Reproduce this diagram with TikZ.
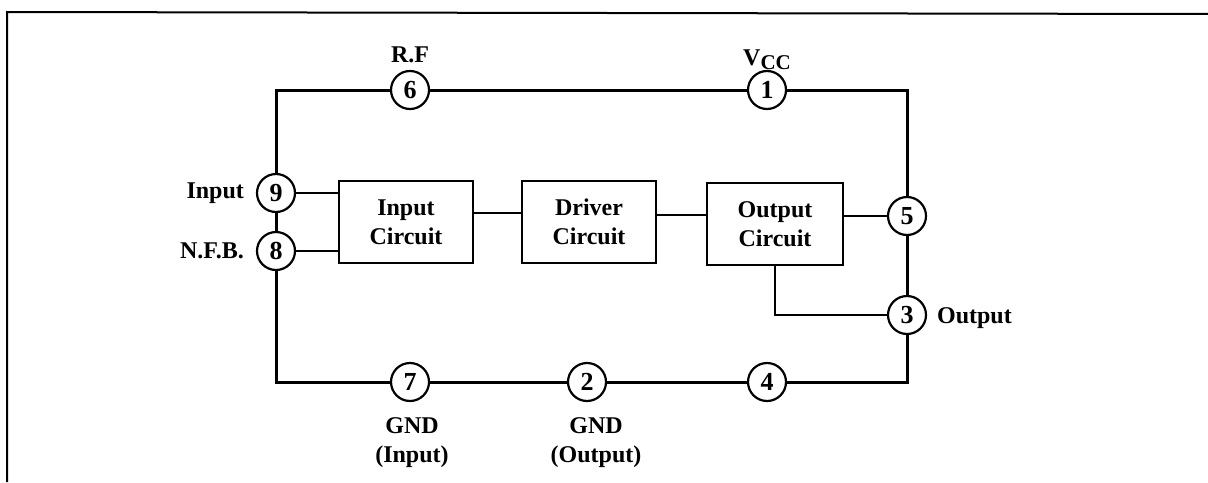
\documentclass[tikz,border=0pt]{standalone}
\usepackage{fontspec}
\setmainfont{Liberation Serif}
\usepackage{tikz}
\usetikzlibrary{positioning, calc}

\begin{document}
\begin{tikzpicture}[x=0.5pt, y=-0.5pt, font=\fontsize{12}{14.5}\selectfont\bfseries,
    pin/.style={draw, circle, line width=1.1pt, minimum size=19pt, inner sep=0pt, fill=white,
        font=\fontsize{13}{14}\selectfont\bfseries},
    block/.style={draw, line width=1pt, minimum width=67pt, minimum height=41pt, align=center, inner sep=0pt},
    wire/.style={line width=1.5pt},
    lead/.style={line width=1pt}]
    \useasboundingbox (0,0) rectangle (1208,482);

    % Frame (top and left edges only)
    \draw[line width=1pt] (1208,14) -- (7,12) -- (7,482);

    % Corners of the pin ring
    \coordinate (tl) at (276,90);
    \coordinate (tr) at (907,90);
    \coordinate (bl) at (276,382);
    \coordinate (br) at (907,382);

    % Blocks
    \node[block] (inp) at (406,222) {Input\\Circuit};
    \node[block] (drv) at (589,222) {Driver\\Circuit};
    \node[block, minimum width=68pt] (outp) at (775,224) {Output\\Circuit};

    % Pins
    \node[pin] (p6) at (410,90) {6};
    \node[pin] (p1) at (767,90) {1};
    \node[pin] (p9) at (276,193) {9};
    \node[pin] (p8) at (276,251) {8};
    \node[pin] (p5) at (907,216) {5};
    \node[pin] (p3) at (907,315) {3};
    \node[pin] (p7) at (410,382) {7};
    \node[pin] (p2) at (587,382) {2};
    \node[pin] (p4) at (767,382) {4};

    % Outer ring
    \draw[wire] (p9) -- (tl) -- (p6) -- (p1) -- (tr) -- (p5);
    \draw[wire] (p9) -- (p8) -- (bl) -- (p7) -- (p2) -- (p4) -- (br) -- (p3) -- (p5);

    % Block connections
    \draw[lead] (p9.east) -- (p9.east -| inp.west);
    \draw[lead] (p8.east) -- (p8.east -| inp.west);
    \draw[lead] ($(inp.east)+(0,-9)$) -- ($(drv.west)+(0,-9)$);
    \draw[lead] ($(drv.east)+(0,-7)$) -- ($(outp.west)+(0,-9)$);
    \draw[lead] ($(outp.east)+(0,-8)$) -- (p5.west);
    \draw[lead] (outp.south) |- (p3.west);

    % Labels
    \node at (410,55) {R.F};
    \node at (767,60) {V\raisebox{-0.35ex}{\fontsize{10.5}{11}\selectfont CC}};
    \node[left] at (251,193) {Input};
    \node[left] at (251,251) {N.F.B.};
    \node[right] at (930,318) {Output};
    \node[align=center] at (412,443) {GND\\(Input)};
    \node[align=center] at (596,443) {GND\\(Output)};
\end{tikzpicture}
\end{document}
